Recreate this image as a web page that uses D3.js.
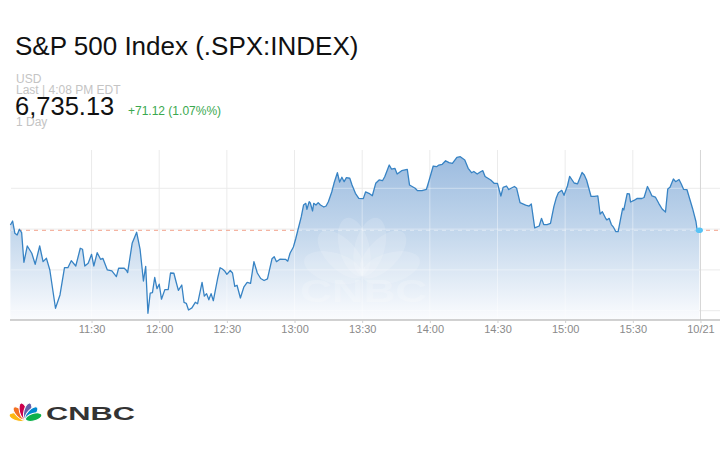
<!DOCTYPE html>
<html><head><meta charset="utf-8">
<script src="https://cdn.jsdelivr.net/npm/d3@7/dist/d3.min.js"></script>
<style>
html,body{margin:0;padding:0;background:#fff;}
svg{display:block;font-family:"Liberation Sans",Arial,Helvetica,sans-serif;}
</style></head>
<body><svg id="c" width="720" height="450"></svg>
<script>
// ---- data ----
const times = ["10:54:00","10:55:00","10:56:00","10:57:00","10:58:00","10:59:00","11:00:00","11:01:30","11:03:30","11:05:00","11:07:00","11:08:30","11:10:00","11:11:30","11:14:00","11:16:00","11:18:00","11:19:30","11:21:00","11:23:00","11:25:00","11:26:00","11:27:00","11:28:30","11:30:00","11:31:00","11:32:30","11:34:00","11:35:00","11:37:00","11:39:00","11:41:00","11:42:00","11:44:30","11:45:30","11:46:00","11:48:00","11:50:00","11:51:30","11:53:00","11:54:00","11:55:00","11:56:00","11:57:00","11:58:00","11:59:00","12:00:00","12:01:00","12:02:30","12:04:00","12:05:00","12:06:30","12:07:30","12:08:30","12:10:00","12:11:00","12:12:00","12:13:00","12:14:30","12:16:00","12:17:00","12:19:00","12:20:00","12:21:00","12:22:00","12:23:00","12:24:00","12:26:00","12:27:00","12:28:00","12:29:00","12:30:00","12:31:30","12:32:30","12:33:30","12:34:30","12:36:00","12:37:30","12:39:00","12:40:30","12:42:00","12:43:30","12:45:00","12:46:30","12:48:00","12:50:00","12:51:00","12:52:00","12:53:30","12:56:00","12:57:00","12:58:00","12:59:30","13:00:30","13:01:30","13:03:00","13:04:00","13:05:00","13:05:30","13:06:30","13:07:00","13:08:00","13:08:30","13:09:30","13:10:30","13:11:30","13:13:00","13:14:00","13:15:00","13:16:30","13:17:30","13:19:00","13:20:00","13:21:00","13:22:00","13:23:00","13:24:30","13:25:30","13:27:00","13:28:30","13:30:30","13:31:30","13:33:00","13:34:30","13:36:00","13:37:30","13:39:00","13:40:00","13:42:00","13:43:00","13:44:30","13:45:30","13:47:30","13:50:00","13:51:00","13:53:30","13:54:30","13:56:30","13:58:30","13:59:30","14:01:30","14:03:00","14:04:00","14:05:30","14:07:00","14:08:30","14:10:00","14:12:00","14:13:30","14:15:30","14:17:00","14:18:30","14:19:30","14:21:00","14:22:30","14:23:30","14:24:30","14:27:00","14:28:30","14:30:00","14:31:30","14:32:30","14:34:00","14:35:00","14:36:00","14:37:30","14:38:30","14:40:00","14:42:30","14:44:00","14:45:00","14:46:30","14:48:30","14:49:30","14:50:30","14:52:00","14:53:30","14:55:00","14:56:00","14:57:00","14:58:30","14:59:30","15:01:00","15:02:00","15:04:00","15:05:30","15:07:30","15:08:30","15:09:30","15:11:30","15:13:00","15:14:30","15:15:30","15:16:30","15:18:00","15:18:30","15:19:30","15:20:30","15:21:30","15:22:30","15:23:30","15:24:30","15:25:30","15:26:00","15:27:30","15:28:30","15:29:00","15:30:30","15:32:00","15:34:00","15:35:00","15:36:30","15:37:30","15:38:30","15:40:00","15:41:30","15:43:00","15:44:30","15:45:30","15:46:30","15:48:00","15:49:00","15:50:30","15:51:30","15:52:30","15:54:00","15:56:30","15:58:00","15:58:30","15:59:30"];
const values = [6735.50,6735.99,6734.49,6734.28,6734.98,6734.56,6730.93,6732.93,6732.04,6730.69,6732.93,6731.01,6731.42,6729.99,6725.30,6726.93,6730.27,6730.27,6731.13,6730.48,6732.65,6732.53,6730.48,6730.81,6731.91,6730.48,6732.11,6731.30,6731.42,6729.99,6729.87,6729.17,6730.20,6730.20,6729.93,6729.66,6733.26,6734.61,6732.56,6728.64,6730.44,6724.69,6727.14,6727.21,6729.07,6727.70,6728.25,6726.41,6727.58,6727.60,6729.62,6729.59,6728.52,6727.50,6728.15,6726.01,6725.91,6725.09,6725.34,6726.03,6725.85,6728.46,6726.78,6727.09,6726.34,6727.09,6726.22,6729.07,6730.27,6730.11,6729.87,6729.46,6729.93,6729.62,6727.99,6728.12,6726.56,6727.88,6728.46,6728.36,6731.01,6729.62,6728.95,6728.70,6728.89,6731.36,6731.62,6731.01,6731.31,6731.30,6731.07,6732.04,6732.81,6733.79,6734.89,6736.52,6737.95,6738.16,6737.43,6738.36,6738.20,6737.22,6738.16,6737.95,6738.24,6737.95,6737.71,6737.83,6738.36,6739.55,6740.61,6741.91,6740.77,6741.35,6740.81,6741.30,6741.23,6740.40,6739.39,6738.77,6738.73,6739.55,6739.39,6739.09,6740.61,6741.02,6740.93,6741.42,6742.85,6742.36,6742.45,6741.75,6742.16,6742.33,6740.40,6740.00,6739.71,6739.71,6739.88,6740.81,6742.73,6742.65,6742.85,6742.94,6743.38,6743.14,6743.06,6743.80,6743.87,6743.47,6742.45,6741.91,6742.06,6741.75,6742.03,6742.16,6741.45,6741.02,6740.61,6740.61,6739.06,6740.12,6740.28,6739.85,6740.00,6740.22,6740.00,6738.24,6737.95,6737.83,6738.08,6735.16,6735.38,6736.32,6735.56,6735.56,6735.69,6737.75,6738.77,6739.46,6739.75,6739.14,6740.28,6741.47,6740.65,6740.55,6741.94,6741.63,6741.02,6739.00,6739.00,6739.06,6736.85,6737.13,6736.30,6736.12,6736.32,6735.56,6735.20,6734.68,6734.68,6736.12,6737.55,6737.34,6739.34,6739.30,6738.32,6738.51,6738.77,6738.75,6738.87,6740.22,6739.67,6739.06,6738.93,6738.16,6737.46,6737.10,6739.91,6740.12,6741.14,6740.81,6741.08,6740.53,6739.88,6739.85,6737.53,6735.93,6734.95,6734.85];
const xDomainTimes = ["10:53:50","16:08:40"];
const yDomainValues = [6725, 6740];
const yTickValues = [6725, 6730, 6735, 6740];
const xTickTimes = ["11:30:00","12:00:00","12:30:00","13:00:00","13:30:00","14:00:00","14:30:00","15:00:00","15:30:00","16:00:00"];
const xTickLabels = ["11:30","12:00","12:30","13:00","13:30","14:00","14:30","15:00","15:30","10/21"];
const title = "S&P 500 Index (.SPX:INDEX)";
const currency = "USD";
const lastLabel = "Last | 4:08 PM EDT";
const lastPrice = "6,735.13";
const change = "+71.12 (1.07%%)";
const rangeLabel = "1 Day";

// ---- chart ----
const svg = d3.select("#c");
const parse = d3.timeParse("%H:%M:%S");
const data = times.map((t,i)=>({t:parse(t), v:values[i]}));
const plotTop = 150, plotBottom = 320, plotLeft = 10, plotRight = 720;

const x = d3.scaleTime().domain(xDomainTimes.map(parse)).range([plotLeft, plotRight]);
const y = d3.scaleLinear().domain(yDomainValues).range([310.7, 188.3]);
const refValue = values[values.length-1];

// header text
svg.append("text").attr("x",15).attr("y",55).attr("font-size",26).attr("fill","#111").text(title);
svg.append("text").attr("x",16).attr("y",82.5).attr("font-size",12).attr("fill","#c4c4c4").text(currency);
svg.append("text").attr("x",16).attr("y",93.5).attr("font-size",12).attr("fill","#c4c4c4").text(lastLabel);
svg.append("text").attr("x",15).attr("y",114.5).attr("font-size",25.5).attr("fill","#111").text(lastPrice);
svg.append("text").attr("x",128).attr("y",114.5).attr("font-size",12).attr("fill","#3aa84f").text(change);
svg.append("text").attr("x",16).attr("y",125.5).attr("font-size",12).attr("fill","#c4c4c4").text(rangeLabel);

// defs
const defs = svg.append("defs");
const grad = defs.append("linearGradient").attr("id","ag").attr("gradientUnits","userSpaceOnUse")
  .attr("x1",0).attr("x2",0).attr("y1",155).attr("y2",plotBottom);
grad.append("stop").attr("offset",0).attr("stop-color","#9bbbdf");
grad.append("stop").attr("offset",0.5).attr("stop-color","#c6d9ed");
grad.append("stop").attr("offset",1).attr("stop-color","#fbfcfe");

const area = d3.area().x(d=>x(d.t)).y0(plotBottom).y1(d=>y(d.v));
const line = d3.line().x(d=>x(d.t)).y(d=>y(d.v));
defs.append("clipPath").attr("id","areaClip").append("path").attr("d", area(data));

// grid
const grid = svg.append("g");
function drawGrid(g, color, op){
  g.selectAll("line.h").data(yTickValues).join("line").attr("class","h")
    .attr("x1",plotLeft+1).attr("x2",plotRight).attr("y1",d=>y(d)).attr("y2",d=>y(d))
    .attr("stroke",color).attr("stroke-opacity",op).attr("stroke-width",1);
  g.selectAll("line.v").data(xTickTimes).join("line").attr("class","v")
    .attr("x1",d=>x(parse(d))).attr("x2",d=>x(parse(d))).attr("y1",plotTop).attr("y2",plotBottom)
    .attr("stroke",(d,i)=> i===xTickTimes.length-1 && color!=="#fff" ? "#d6d6d6" : color)
    .attr("stroke-opacity",op).attr("stroke-width",1);
}
drawGrid(grid, "#ebebeb", 1);

// reference dashed line
svg.append("line").attr("x1",plotLeft).attr("x2",plotRight).attr("y1",y(refValue)).attr("y2",y(refValue))
  .attr("stroke","#f2a48e").attr("stroke-width",1).attr("stroke-dasharray","4,4");

// area
svg.append("path").attr("d", area(data)).attr("fill","url(#ag)");

// overlay inside area
const ov = svg.append("g").attr("clip-path","url(#areaClip)");
drawGrid(ov, "#fff", 0.4);
ov.append("line").attr("x1",plotLeft).attr("x2",plotRight).attr("y1",y(refValue)).attr("y2",y(refValue))
  .attr("stroke","#fff").attr("stroke-opacity",0.45).attr("stroke-width",1).attr("stroke-dasharray","4,4");

// peacock helper
function peacock(g, cx, by, R, W, colors, opacity){
  const angles = [-74,-44,-15,15,44,74];
  angles.forEach((a,i)=>{
    const rad = a*Math.PI/180;
    const d = R*0.5;
    const ex = cx + Math.sin(rad)*d, ey = by - Math.cos(rad)*d;
    g.append("ellipse").attr("cx",ex).attr("cy",ey).attr("rx",W/2).attr("ry",R/2)
      .attr("transform",`rotate(${a},${ex},${ey})`)
      .attr("fill",colors[i]).attr("fill-opacity",opacity)
      .attr("stroke","#fff").attr("stroke-width",opacity<1?0:1);
  });
}
// watermark
const wm = ov.append("g");
peacock(wm, 362, 276, 60, 30, Array(6).fill("#fff"), 0.15);
wm.append("text").attr("x",300).attr("y",302).attr("font-size",31).attr("font-weight","bold")
  .attr("textLength",127).attr("lengthAdjust","spacingAndGlyphs")
  .attr("fill","#fff").attr("fill-opacity",0.2).text("CNBC");

// line
svg.append("path").attr("d", line(data)).attr("fill","none").attr("stroke","#3783c4").attr("stroke-width",1.3)
  .attr("stroke-linejoin","round");

// last dot
const last = data[data.length-1];
svg.append("ellipse").attr("cx",x(last.t)).attr("cy",y(last.v)).attr("rx",3.6).attr("ry",2.8).attr("fill","#57c3f5");

// x axis
const xAxis = d3.axisBottom(x).tickValues(xTickTimes.map(parse))
  .tickFormat((d,i)=>xTickLabels[i]).tickSize(3).tickSizeOuter(0);
const ax = svg.append("g").attr("transform",`translate(0,${plotBottom})`).call(xAxis);
ax.select(".domain").attr("stroke","#c2c2c2").attr("stroke-width",1.5).attr("d",`M${plotLeft},0H${plotRight}`);
ax.selectAll(".tick line").attr("stroke","#cfcfcf");
ax.selectAll(".tick text").attr("fill","#8a8a8a").attr("font-size",11)
  .attr("font-family","'Liberation Sans',Arial,sans-serif").attr("dy",0).attr("y",13);

// CNBC logo
const logo = svg.append("g");
peacock(logo, 25.5, 419.5, 17, 7.5, ["#fcb711","#f37021","#cc004c","#6460aa","#0089d0","#0db14b"], 1);
logo.append("text").attr("x",46).attr("y",419.5).attr("font-size",19).attr("font-weight","bold")
  .attr("textLength",89).attr("lengthAdjust","spacingAndGlyphs").attr("fill","#333").text("CNBC");
</script></body></html>
